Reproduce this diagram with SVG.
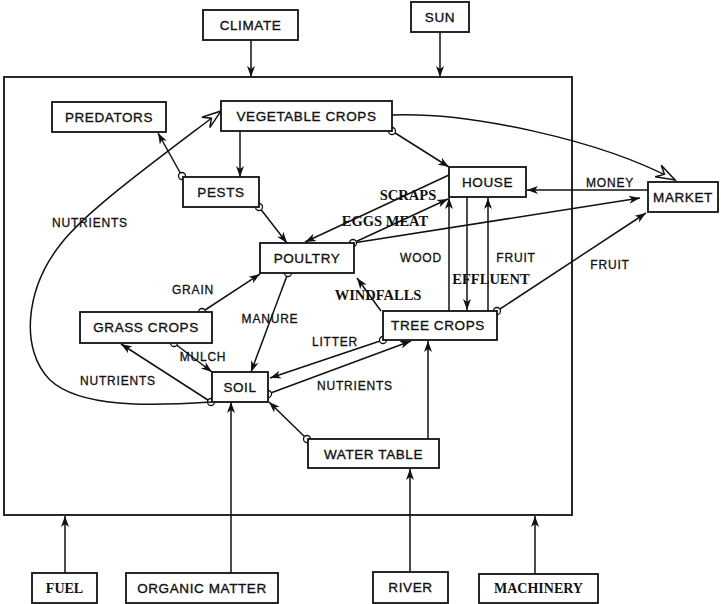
<svg xmlns="http://www.w3.org/2000/svg" width="721" height="604" viewBox="0 0 721 604">
<style>
.box{fill:#fff;stroke:#111;stroke-width:1.8}
.frame{fill:none;stroke:#111;stroke-width:1.8}
.bt{font-family:"Liberation Sans",Arial,sans-serif;font-size:13.5px;letter-spacing:0.6px;fill:#111;stroke:#111;stroke-width:0.35;text-anchor:middle}
.bs{font-family:"Liberation Serif","Times New Roman",serif;font-size:14px;font-weight:bold;fill:#111;text-anchor:middle}
.lt{font-family:"Liberation Sans",Arial,sans-serif;font-size:12px;letter-spacing:0.8px;fill:#111;stroke:#111;stroke-width:0.3;text-anchor:middle}
.ls{font-family:"Liberation Serif","Times New Roman",serif;font-size:14.5px;font-weight:bold;fill:#111;text-anchor:middle}
.c{fill:none;stroke:#111;stroke-width:1.5}
.a{marker-end:url(#ah)}
.o{marker-end:url(#oh)}
.d{marker-start:url(#dot)}
</style>
<defs>
<marker id="ah" markerWidth="13" markerHeight="10" refX="11" refY="5" orient="auto" markerUnits="userSpaceOnUse"><path d="M0,1 L11,5 L0,9 L3,5 Z" fill="#111"/></marker>
<marker id="oh" markerWidth="24" markerHeight="18" refX="21" refY="9" orient="auto" markerUnits="userSpaceOnUse"><path d="M2,2.5 L21,9 L2,15.5 L9,9 Z" fill="#fff" stroke="#111" stroke-width="1.5" stroke-linejoin="miter"/></marker>
<marker id="dot" markerWidth="10" markerHeight="10" refX="5" refY="5" markerUnits="userSpaceOnUse"><circle cx="5" cy="5" r="3.5" fill="#fff" stroke="#111" stroke-width="1.3"/></marker>
</defs>
<rect width="721" height="604" fill="#fff"/>
<rect class="frame" x="4" y="77" width="568" height="438"/>

<g id="connectors">
<path class="c a" d="M251,40 L251,77"/>
<path class="c a" d="M440,32 L440,77"/>
<path class="c a" d="M65,573 L65,516"/>
<path class="c a" d="M231,573 L231,402"/>
<path class="c a" d="M410,572 L410,469"/>
<path class="c a" d="M535,574 L535,516"/>
<path class="c a" d="M428,439 L428,341"/>
<path class="c a d" d="M307,439 L269,402"/>
<path class="c a d" d="M268,394 L411,341"/>
<path class="c a d" d="M383,340 L270,378"/>
<path class="c a" d="M381,311 L357,278"/>
<path class="c a d" d="M288,273 L251,372"/>
<path class="c a d" d="M202,312 L260,274"/>
<path class="c a d" d="M174,343 L212,372"/>
<path class="c a d" d="M211,402 L121,344"/>
<path class="c o" d="M211,402 C150,406 80,408 50,380 C20,350 25,290 60,245 C85,212 150,165 221,111"/>
<path class="c a d" d="M182,176 L158,133"/>
<path class="c a" d="M240,131 L240,177"/>
<path class="c a d" d="M259,207 L287,243"/>
<path class="c a d" d="M392,131 L449,167"/>
<path class="c o" d="M392,115 C470,112 600,140 675,180"/>
<path class="c a" d="M449,175 L305,242"/>
<path class="c a" d="M353,243 L640,198"/>
<path class="c a d" d="M353,243 L448,199"/>
<path class="c a" d="M648,190 L527,190"/>
<path class="c a d" d="M497,311 L646,213"/>
<path class="c a" d="M449,311 L449,198"/>
<path class="c a" d="M467,197 L467,310"/>
<path class="c a" d="M488,311 L488,198"/>
</g>

<g id="climate"><rect class="box" x="203" y="10" width="95" height="30"/><text class="bt" x="250.5" y="30">CLIMATE</text></g>
<g id="sun"><rect class="box" x="411" y="2" width="58" height="30"/><text class="bt" x="440" y="22">SUN</text></g>
<g id="predators"><rect class="box" x="52" y="102" width="114" height="30"/><text class="bt" x="109" y="122">PREDATORS</text></g>
<g id="vegetable-crops"><rect class="box" x="221" y="101" width="171" height="30"/><text class="bt" x="306.5" y="121">VEGETABLE CROPS</text></g>
<g id="pests"><rect class="box" x="183" y="177" width="76" height="30"/><text class="bt" x="221" y="197">PESTS</text></g>
<g id="house"><rect class="box" x="449" y="167" width="77" height="30"/><text class="bt" x="487.5" y="187">HOUSE</text></g>
<g id="market"><rect class="box" x="648" y="182" width="70" height="30"/><text class="bt" x="683" y="202">MARKET</text></g>
<g id="poultry"><rect class="box" x="260" y="243" width="94" height="30"/><text class="bt" x="307" y="263">POULTRY</text></g>
<g id="grass-crops"><rect class="box" x="80" y="312" width="132" height="31"/><text class="bt" x="146" y="332">GRASS CROPS</text></g>
<g id="soil"><rect class="box" x="212" y="372" width="56" height="30"/><text class="bt" x="240" y="392">SOIL</text></g>
<g id="tree-crops"><rect class="box" x="383" y="311" width="114" height="29"/><text class="bt" x="438" y="330">TREE CROPS</text></g>
<g id="water-table"><rect class="box" x="308" y="439" width="131" height="29"/><text class="bt" x="373.5" y="459">WATER TABLE</text></g>
<g id="fuel"><rect class="box" x="32" y="573" width="65" height="30"/><text class="bs" x="64.5" y="593">FUEL</text></g>
<g id="organic-matter"><rect class="box" x="126" y="573" width="152" height="30"/><text class="bt" x="202" y="593">ORGANIC MATTER</text></g>
<g id="river"><rect class="box" x="373" y="572" width="75" height="31"/><text class="bt" x="410.5" y="592">RIVER</text></g>
<g id="machinery"><rect class="box" x="479" y="574" width="119" height="29"/><text class="bs" x="538.5" y="593">MACHINERY</text></g>

<g id="labels">
<text class="lt" x="90" y="227">NUTRIENTS</text>
<text class="lt" x="193" y="294">GRAIN</text>
<text class="lt" x="270" y="323">MANURE</text>
<text class="lt" x="203" y="361">MULCH</text>
<text class="lt" x="118" y="385">NUTRIENTS</text>
<text class="lt" x="335" y="346">LITTER</text>
<text class="lt" x="355" y="390">NUTRIENTS</text>
<text class="ls" x="378" y="300">WINDFALLS</text>
<text class="lt" x="421" y="262">WOOD</text>
<text class="ls" x="491" y="284">EFFLUENT</text>
<text class="lt" x="516" y="262">FRUIT</text>
<text class="lt" x="610" y="269">FRUIT</text>
<text class="lt" x="610" y="187">MONEY</text>
<text class="ls" x="408" y="200">SCRAPS</text>
<text class="ls" x="385" y="226">EGGS MEAT</text>
</g>
</svg>
